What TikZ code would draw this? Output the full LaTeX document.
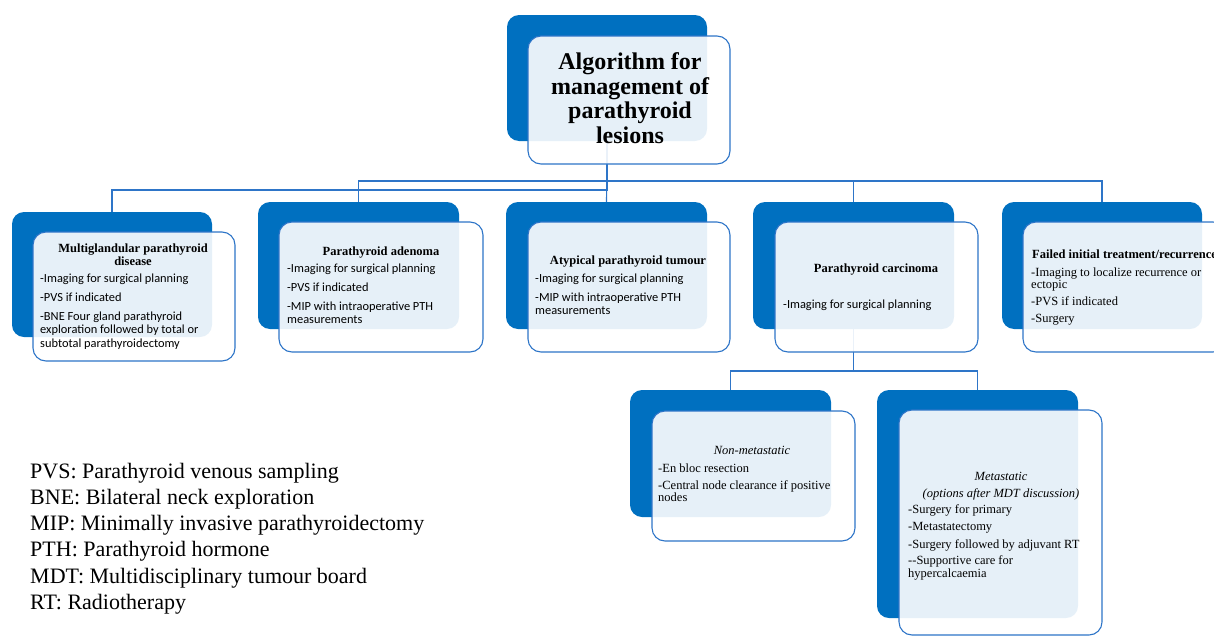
\documentclass[tikz,border=0pt]{standalone}
\usepackage{fontspec}
\setmainfont{Liberation Serif}
\newfontfamily\calfont{Carlito}
\usetikzlibrary{backgrounds}
\definecolor{dblue}{RGB}{0,112,192}
\definecolor{lblue}{RGB}{46,117,200}
\begin{document}
\begin{tikzpicture}[x=1pt,y=-1pt,
 dbox/.style={draw=none, fill=dblue, rounded corners=12pt, anchor=north west, inner sep=0pt, outer sep=0pt},
 lbox/.style={draw=lblue, line width=1.1pt, fill=white, fill opacity=0.9, rounded corners=13pt, anchor=north west, inner sep=0pt, outer sep=0pt},
 link/.style={draw=lblue, line width=1.1pt},
 head/.style={anchor=base, align=center, font=\bfseries\fontsize{12.5}{13}\selectfont, inner sep=0pt},
 body/.style={anchor=base west, align=left, font=\calfont\fontsize{12.4}{13.5}\selectfont, inner sep=0pt},
 sbody/.style={anchor=base west, align=left, font=\fontsize{12.5}{12.5}\selectfont, inner sep=0pt},
 legend/.style={anchor=base west, align=left, font=\fontsize{22}{26.3}\selectfont, inner sep=0pt}]
\useasboundingbox (0,0) rectangle (1214,637);

% title (base anchor = baseline of last line)
\node[dbox, minimum width=200, minimum height=126] (d0) at (507,15) {};
\node[lbox, minimum width=202, minimum height=128] (l0) at (528,36) {};
\node[anchor=base, align=center, inner sep=0pt, font=\bfseries\fontsize{24}{24.5}\selectfont] (title) at (630,143) {Algorithm for\\management of\\parathyroid\\lesions};

% box 1
\node[dbox, minimum width=200, minimum height=125] (d1) at (12,212) {};
\node[lbox, minimum width=202, minimum height=129] (l1) at (33,232) {};
\node[head] (h1) at (133,265) {Multiglandular parathyroid\\disease};
\node[body] (b1) at (40,347) {-Imaging for surgical planning\\[5.5pt]-PVS if indicated\\[5.5pt]-BNE Four gland parathyroid\\exploration followed by total or\\subtotal parathyroidectomy};

% box 2
\node[dbox, minimum width=201, minimum height=127] (d2) at (258,202) {};
\node[lbox, minimum width=204, minimum height=130] (l2) at (279,222) {};
\node[head] (h2) at (381,255) {Parathyroid adenoma};
\node[body] (b2) at (287,323.5) {-Imaging for surgical planning\\[5.5pt]-PVS if indicated\\[5.5pt]-MIP with intraoperative PTH\\measurements};

% box 3
\node[dbox, minimum width=201, minimum height=127] (d3) at (506,202) {};
\node[lbox, minimum width=202, minimum height=130] (l3) at (528,222) {};
\node[head] (h3) at (628,264) {Atypical parathyroid tumour};
\node[body] (b3) at (535,314.5) {-Imaging for surgical planning\\[5.5pt]-MIP with intraoperative PTH\\measurements};

% box 4
\node[dbox, minimum width=201, minimum height=127] (d4) at (753,202) {};
\node[lbox, minimum width=203, minimum height=130] (l4) at (775,222) {};
\node[head] (h4) at (876,272) {Parathyroid carcinoma};
\node[body] (b4) at (783,308) {-Imaging for surgical planning};

% box 5
\node[dbox, minimum width=200, minimum height=127] (d5) at (1002,202) {};
\node[lbox, minimum width=203, minimum height=130] (l5) at (1023,222) {};
\node[head, anchor=base west] (h5) at (1032,258) {Failed initial treatment/recurrence};
\node[sbody] (b5) at (1031,322.5) {-Imaging to localize recurrence or\\ectopic\\[4.5pt]-PVS if indicated\\[4.5pt]-Surgery};

% non-metastatic
\node[dbox, minimum width=201, minimum height=127] (d6) at (630,390) {};
\node[lbox, minimum width=203, minimum height=130] (l6) at (652,411) {};
\node[head, font=\itshape\fontsize{12.5}{13}\selectfont] (h6) at (752,454) {Non-metastatic};
\node[sbody] (b6) at (658,501.5) {-En bloc resection\\[4.5pt]-Central node clearance if positive\\nodes};

% metastatic
\node[dbox, minimum width=201, minimum height=228] (d7) at (877,390) {};
\node[lbox, minimum width=203, minimum height=225] (l7) at (899,410) {};
\node[head, font=\itshape\fontsize{12.5}{17}\selectfont] (h7) at (1001,497) {Metastatic\\(options after MDT discussion)};
\node[sbody] (b7) at (908,577) {-Surgery for primary\\[5pt]-Metastatectomy\\[5pt]-Surgery followed by adjuvant RT\\[4pt]-{}-Supportive care for\\hypercalcaemia};

% legend
\node[legend] (leg) at (30,609.5) {PVS: Parathyroid venous sampling\\BNE: Bilateral neck exploration\\MIP: Minimally invasive parathyroidectomy\\PTH: Parathyroid hormone\\MDT: Multidisciplinary tumour board\\RT: Radiotherapy};

% connectors
\coordinate (j1) at (607,190);
\coordinate (j2) at (607,181);
\coordinate (j3) at (853.5,371);
\begin{pgfonlayer}{background}
\draw[link] (d0.south) -- (j1) -| (d1.north);
\draw[link] (d0.south) -- (j2) -| (d2.north);
\draw[link] (d0.south) -- (d3.north);
\draw[link] (j2) -| (d4.north);
\draw[link] (j2) -| (d5.north);
\draw[link] (d4.south) -- (j3) -| (d6.north);
\draw[link] (j3) -| (d7.north);
\end{pgfonlayer}
\end{tikzpicture}
\end{document}
